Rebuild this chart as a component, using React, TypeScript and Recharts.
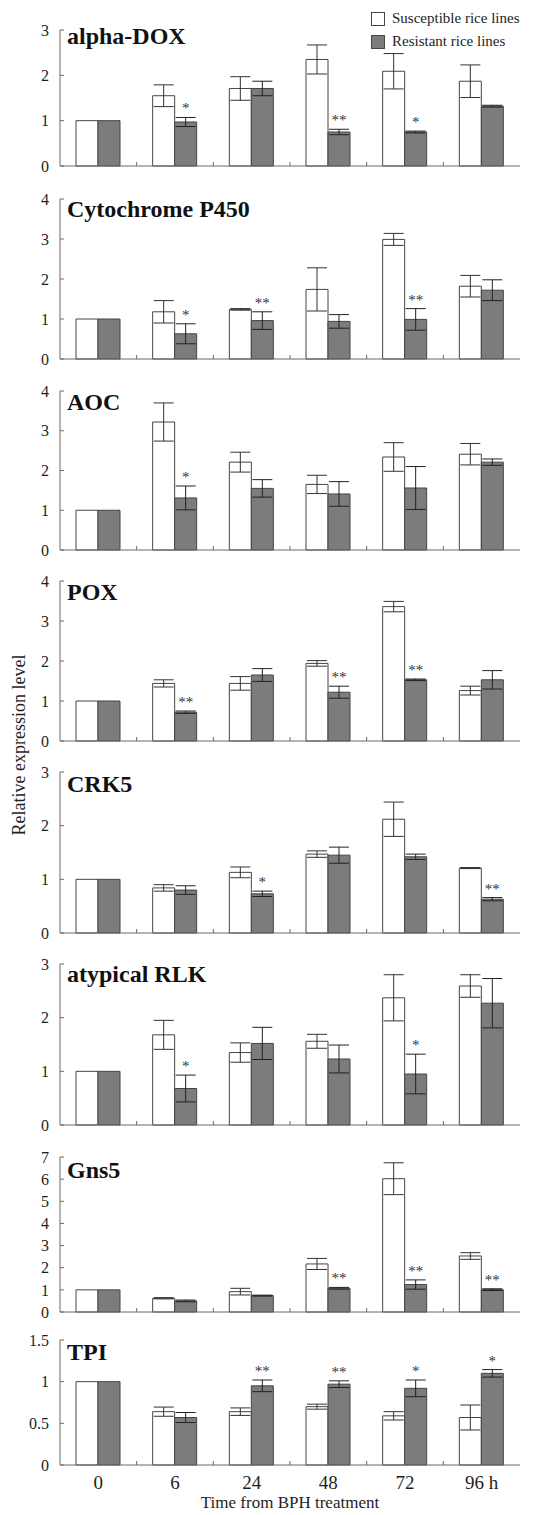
import React from 'react';
import { BarChart, Bar, XAxis, YAxis, ErrorBar, LabelList, Label, Legend } from 'recharts';

const hours = ['0', '6', '24', '48', '72', '96 h'];

// alpha-DOX
const doxS = [1, 1.55, 1.71, 2.35, 2.09, 1.87];
const doxSErr = [0, 0.24, 0.26, 0.32, 0.39, 0.36];
const doxR = [1, 0.97, 1.71, 0.75, 0.75, 1.32];
const doxRErr = [0, 0.1, 0.16, 0.06, 0.02, 0.02];
const doxSig = ['', '*', '', '**', '*', ''];

// Cytochrome P450
const cypS = [1, 1.18, 1.24, 1.74, 2.99, 1.82];
const cypSErr = [0, 0.28, 0.02, 0.54, 0.15, 0.27];
const cypR = [1, 0.63, 0.96, 0.94, 0.99, 1.72];
const cypRErr = [0, 0.25, 0.22, 0.17, 0.27, 0.26];
const cypSig = ['', '*', '**', '', '**', ''];

// AOC
const aocS = [1, 3.22, 2.21, 1.65, 2.34, 2.41];
const aocSErr = [0, 0.48, 0.25, 0.23, 0.36, 0.27];
const aocR = [1, 1.31, 1.55, 1.41, 1.56, 2.21];
const aocRErr = [0, 0.3, 0.22, 0.31, 0.54, 0.08];
const aocSig = ['', '*', '', '', '', ''];

// POX
const poxS = [1, 1.44, 1.44, 1.94, 3.36, 1.26];
const poxSErr = [0, 0.09, 0.17, 0.07, 0.13, 0.11];
const poxR = [1, 0.72, 1.65, 1.22, 1.53, 1.53];
const poxRErr = [0, 0.03, 0.16, 0.15, 0.02, 0.23];
const poxSig = ['', '**', '', '**', '**', ''];

// CRK5
const crkS = [1, 0.84, 1.13, 1.47, 2.12, 1.21];
const crkSErr = [0, 0.06, 0.1, 0.06, 0.32, 0.01];
const crkR = [1, 0.8, 0.73, 1.45, 1.42, 0.63];
const crkRErr = [0, 0.08, 0.05, 0.15, 0.05, 0.03];
const crkSig = ['', '', '*', '', '', '**'];

// atypical RLK
const rlkS = [1, 1.68, 1.35, 1.56, 2.37, 2.59];
const rlkSErr = [0, 0.27, 0.18, 0.13, 0.43, 0.21];
const rlkR = [1, 0.68, 1.52, 1.23, 0.95, 2.27];
const rlkRErr = [0, 0.25, 0.3, 0.26, 0.37, 0.46];
const rlkSig = ['', '*', '', '', '*', ''];

// Gns5
const gnsS = [1, 0.62, 0.92, 2.17, 6.02, 2.53];
const gnsSErr = [0, 0.03, 0.15, 0.25, 0.72, 0.15];
const gnsR = [1, 0.5, 0.74, 1.07, 1.24, 1.01];
const gnsRErr = [0, 0.04, 0.02, 0.04, 0.21, 0.04];
const gnsSig = ['', '', '', '**', '**', '**'];

// TPI
const tpiS = [1, 0.64, 0.64, 0.7, 0.59, 0.57];
const tpiSErr = [0, 0.055, 0.045, 0.03, 0.05, 0.15];
const tpiR = [1, 0.57, 0.95, 0.97, 0.92, 1.1];
const tpiRErr = [0, 0.06, 0.07, 0.04, 0.1, 0.045];
const tpiSig = ['', '', '**', '**', '*', '*'];

const seriesNames = ['Susceptible rice lines', 'Resistant rice lines'];

const FONT = '"Liberation Serif", "Times New Roman", serif';
const AXIS = '#6a6a6a';
const INK = '#1e1e1e';
const GRAY = '#7c7c7c';
const EDGE = '#454545';
const W = 534;
const PAD_TOP = 30;
const TICK_SIZE = 6;
const TICK_MARGIN = 5;

const build = (s: number[], se: number[], r: number[], re: number[], sig: string[]) =>
  hours.map((h, i) => ({ h, s: s[i], sErr: se[i] || null, r: r[i], rErr: re[i] || null, sig: sig[i] }));

const panels = [
  { title: 'alpha-DOX', top: 30, zero: 166, max: 3, ticks: [0, 1, 2, 3], titleDy: 14, data: build(doxS, doxSErr, doxR, doxRErr, doxSig) },
  { title: 'Cytochrome P450', top: 199, zero: 359, max: 4, ticks: [0, 1, 2, 3, 4], titleDy: 18, data: build(cypS, cypSErr, cypR, cypRErr, cypSig) },
  { title: 'AOC', top: 391, zero: 550, max: 4, ticks: [0, 1, 2, 3, 4], titleDy: 19, data: build(aocS, aocSErr, aocR, aocRErr, aocSig) },
  { title: 'POX', top: 581, zero: 741, max: 4, ticks: [0, 1, 2, 3, 4], titleDy: 19, data: build(poxS, poxSErr, poxR, poxRErr, poxSig) },
  { title: 'CRK5', top: 772, zero: 933, max: 3, ticks: [0, 1, 2, 3], titleDy: 20, data: build(crkS, crkSErr, crkR, crkRErr, crkSig) },
  { title: 'atypical RLK', top: 964, zero: 1125, max: 3, ticks: [0, 1, 2, 3], titleDy: 18, data: build(rlkS, rlkSErr, rlkR, rlkRErr, rlkSig) },
  { title: 'Gns5', top: 1157, zero: 1312, max: 7, ticks: [0, 1, 2, 3, 4, 5, 6, 7], titleDy: 21, data: build(gnsS, gnsSErr, gnsR, gnsRErr, gnsSig) },
  { title: 'TPI', top: 1340, zero: 1465, max: 1.5, ticks: [0, 0.5, 1, 1.5], titleDy: 20, data: build(tpiS, tpiSErr, tpiR, tpiRErr, tpiSig) },
];

// ticks sit between the time points, labels (last panel only) under them
const HourTick = (props: any) => {
  const { x, y, payload, index, showLabel } = props;
  const axisY = y - TICK_SIZE - TICK_MARGIN;
  const half = payload && payload.offset ? payload.offset : 460 / 12;
  const bx = x + half;
  return (
    <g>
      {index < hours.length - 1 && <line x1={bx} x2={bx} y1={axisY} y2={axisY - 4} stroke={AXIS} />}
      {showLabel && (
        <text x={x} y={y} dy="0.71em" textAnchor="middle" fontSize={19} fill={INK} fontFamily={FONT}>
          {payload.value}
        </text>
      )}
    </g>
  );
};

const SigLabel = (props: any) => {
  const { index, data } = props;
  const vb = props.viewBox || props;
  const d = data[index];
  if (!d || !d.sig) return null;
  const pxPerUnit = vb.height / d.r;
  const errTop = vb.y - (d.rErr || 0) * pxPerUnit;
  return (
    <text x={vb.x + vb.width / 2} y={errTop - 4} textAnchor="middle" fontSize={15} fill="#333" fontFamily={FONT}>
      {d.sig}
    </text>
  );
};

const LegendBox = () => (
  <div style={{ fontFamily: FONT, fontSize: 15, color: INK, lineHeight: '23px' }}>
    {seriesNames.map((n, i) => (
      <div key={n} style={{ display: 'flex', alignItems: 'center', height: 23 }}>
        <span style={{ display: 'inline-block', width: 12, height: 12, border: `1px solid ${EDGE}`, background: i === 0 ? '#fff' : GRAY, marginRight: 7 }} />
        {n}
      </div>
    ))}
  </div>
);

const Panel = ({ p, idx }: { p: (typeof panels)[number]; idx: number }) => {
  const last = idx === panels.length - 1;
  const axisH = last ? 46 : 1;
  const mb = last ? 4 : 12;
  const h = PAD_TOP + (p.zero - p.top) + axisH + mb;
  return (
    <div style={{ position: 'absolute', left: 0, top: p.top - PAD_TOP }}>
      <BarChart width={W} height={h} data={p.data} barGap={0} barSize={22} margin={{ top: PAD_TOP, right: 14, bottom: mb, left: 0 }}>
        <XAxis
          dataKey="h"
          height={axisH}
          interval={0}
          tickLine={false}
          tickSize={TICK_SIZE}
          tickMargin={TICK_MARGIN}
          axisLine={{ stroke: AXIS }}
          tick={<HourTick showLabel={last} />}
        >
          {last && (
            <Label value="Time from BPH treatment" position="insideBottom" offset={3} style={{ fontFamily: FONT, fontSize: 17, fill: INK }} />
          )}
        </XAxis>
        <YAxis
          width={60}
          type="number"
          domain={[0, p.max]}
          ticks={p.ticks}
          interval={0}
          tickSize={-4}
          tickMargin={15}
          axisLine={{ stroke: AXIS }}
          tickLine={{ stroke: AXIS }}
          tick={{ fontSize: 16, fill: INK, fontFamily: FONT }}
        >
          <Label
            content={(lp: any) => {
              const vb = lp.viewBox;
              return (
                <text x={vb.x + vb.width + 7} y={vb.y + p.titleDy} fontSize={24} fontWeight="bold" fill="#111" fontFamily={FONT}>
                  {p.title}
                </text>
              );
            }}
          />
        </YAxis>
        {idx === 0 && (
          <Legend
            layout="vertical"
            align="center"
            verticalAlign="middle"
            content={<LegendBox />}
            wrapperStyle={{ top: 7, left: 371, width: 163 }}
          />
        )}
        <Bar dataKey="s" name={seriesNames[0]} fill="#ffffff" stroke={EDGE} strokeWidth={1} isAnimationActive={false}>
          <ErrorBar dataKey="sErr" width={10} stroke="#333" strokeWidth={1} />
        </Bar>
        <Bar dataKey="r" name={seriesNames[1]} fill={GRAY} stroke={EDGE} strokeWidth={1} isAnimationActive={false}>
          <ErrorBar dataKey="rErr" width={10} stroke="#222" strokeWidth={1} />
          <LabelList dataKey="sig" content={<SigLabel data={p.data} />} />
        </Bar>
      </BarChart>
    </div>
  );
};

export default function App() {
  return (
    <div style={{ position: 'absolute', left: 0, top: 0, width: W, height: 1515, background: '#fff', fontFamily: FONT }}>
      {panels.map((p, i) => (
        <Panel key={p.title} p={p} idx={i} />
      ))}
      <svg width={40} height={1515} style={{ position: 'absolute', left: 0, top: 0 }}>
        <text x={19} y={745} transform="rotate(-90 19 745)" textAnchor="middle" dominantBaseline="central" fontSize={18} fill={INK} fontFamily={FONT}>
          Relative expression level
        </text>
      </svg>
    </div>
  );
}
